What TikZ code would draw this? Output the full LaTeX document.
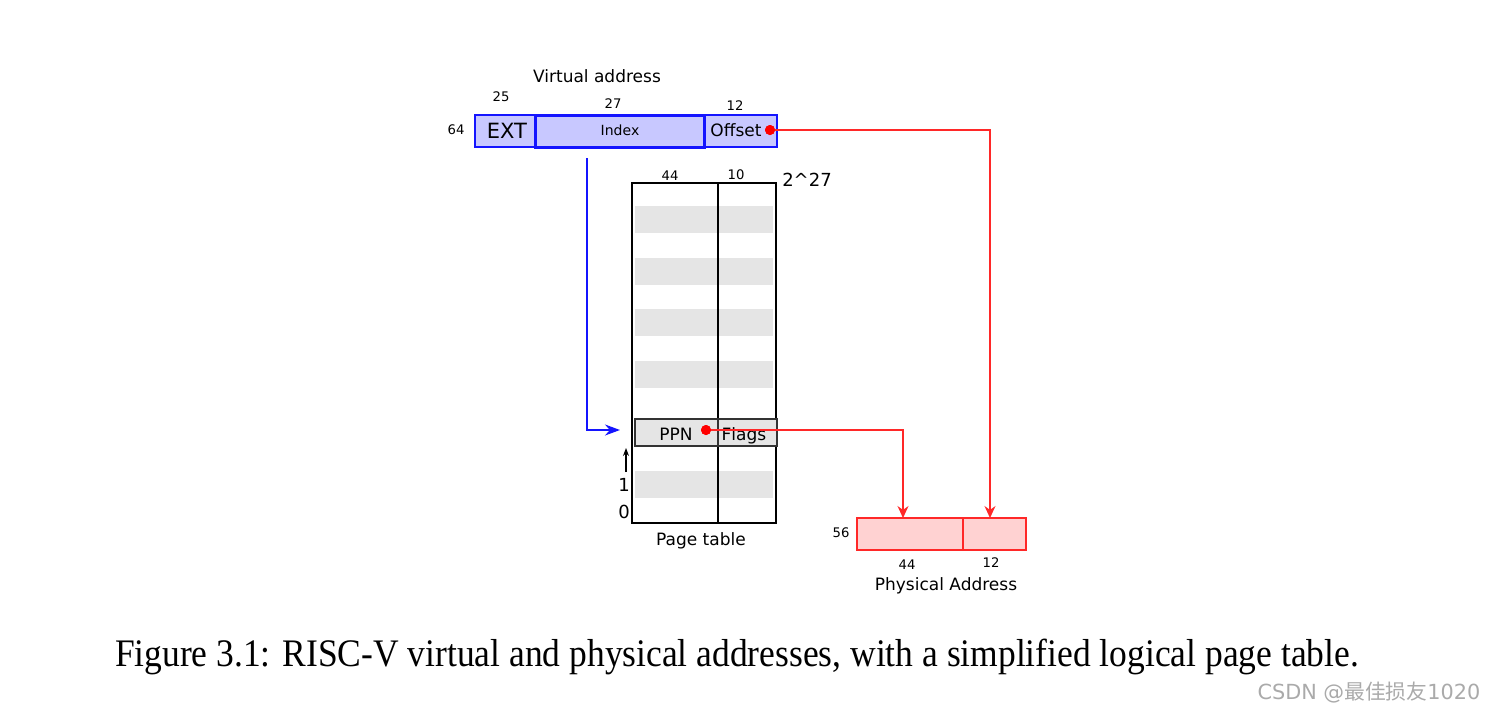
\documentclass[tikz,border=0pt]{standalone}
\usepackage{fontspec}
\setmainfont{DejaVu Sans}
\newfontfamily\capfont[FakeStretch=0.91]{Liberation Serif}
\newfontfamily\cjkfont{Noto Sans CJK SC}
\usetikzlibrary{arrows.meta}
\definecolor{vafill}{RGB}{200,200,255}
\definecolor{vablue}{RGB}{20,20,255}
\definecolor{pafill}{RGB}{255,210,210}
\definecolor{pared}{RGB}{255,40,40}
\definecolor{stripe}{RGB}{229,229,229}
\definecolor{wm}{RGB}{170,170,170}
\begin{document}
\begin{tikzpicture}[x=0.5pt,y=-0.5pt,
  lbl/.style={inner sep=0pt,font=\fontsize{8.5}{10}\selectfont},
  num/.style={inner sep=0pt,font=\fontsize{6.6}{7}\selectfont},
  vabox/.style={draw=vablue,fill=vafill,line width=0.7pt,inner sep=0pt},
  pabox/.style={draw=pared,fill=pafill,line width=0.7pt,inner sep=0pt},
  stripebox/.style={fill=stripe,draw=none},
  redarrow/.style={draw=pared,line width=0.6pt,-{Stealth[length=6pt,width=5.5pt]}},
  dotmark/.style={circle,fill=red,inner sep=0pt,minimum size=5pt}]
\useasboundingbox (0,0) rectangle (1496,714);
% virtual address
\path[vabox] (475,115) rectangle (535,147);
\path[vabox] (704,115) rectangle (777,147);
\path[vabox,line width=1.5pt] (535,115) rectangle (704,147);
\node[inner sep=0pt,font=\fontsize{10.5}{12}\selectfont] (ext) at (507,131) {EXT};
\node[inner sep=0pt,font=\fontsize{7}{8}\selectfont] (index) at (620,130) {Index};
\node[lbl] (offset) at (736,130) {Offset};
\node[dotmark] (odot) at (770,130) {};
\node[lbl] (vatitle) at (597,76) {Virtual address};
\node[num] (n25) at (501,97) {25};
\node[num] (n27) at (613,104) {27};
\node[num] (n12a) at (735,106) {12};
\node[num] (n64) at (456,130) {64};
% page table stripes
\foreach \y in {206,258,309,361,471} {\path[stripebox] (635,\y) rectangle (773,\y+27);}
\draw[line width=1pt] (632,183) rectangle (776,523);
\draw[line width=1pt] (718,183) -- (718,523);
\node[draw=black!80,fill=stripe,line width=0.8pt,minimum width=71pt,minimum height=13.5pt,inner sep=0pt,anchor=north west] (row) at (634,418) {};
\draw[line width=0.8pt,black!80] (718,418) -- (718,445);
\node[lbl,anchor=base] (ppn) at (676,440) {PPN};
\node[lbl,anchor=base] (flags) at (744,440) {Flags};
\node[dotmark] (pdot) at (706,430) {};
\node[num] (n44a) at (670,176) {44};
\node[num] (n10) at (736,175) {10};
\node[inner sep=0pt,font=\fontsize{9}{10}\selectfont] (p27) at (807,180) {2\char`^27};
\node[inner sep=0pt,font=\fontsize{9}{10}\selectfont] (one) at (624,485) {1};
\node[inner sep=0pt,font=\fontsize{9}{10}\selectfont] (zero) at (624,512) {0};
\coordinate (upbot) at (626,472);
\coordinate (uptop) at (626,448);
\draw[line width=0.6pt,-{Stealth[length=4pt,width=3pt]}] (upbot) -- (uptop);
\node[lbl] (pttitle) at (701,541) {Page table};
% physical address
\path[pabox] (857,518) rectangle (963,550);
\path[pabox] (963,518) rectangle (1026,550);
\node[num] (n56) at (841,533) {56};
\node[num] (n44b) at (907,565) {44};
\node[num] (n12b) at (991,563) {12};
\node[lbl] (patitle) at (946,586) {Physical Address};
\coordinate (pa44top) at (903,518);
\coordinate (pa12top) at (990,518);
% connectors
\coordinate (bstart) at (587,158);
\coordinate (bend) at (620,430);
\draw[vablue,line width=0.7pt,-{Stealth[length=7.5pt,width=5.5pt]}] (bstart) |- (bend);
\path[redarrow] (odot.center) -| (pa12top);
\path[redarrow] (pdot.center) -| (pa44top);
\node[dotmark] at (odot) {};
\node[dotmark] at (pdot) {};
% caption
\node[inner sep=0pt,font=\capfont\fontsize{19.5}{22}\selectfont] (caption) at (737,657) {Figure 3.1: RISC-V virtual and physical addresses, with a simplified logical page table.};
\node[inner sep=0pt,text=wm,font=\fontsize{10.4}{12}\selectfont] (wmark) at (1369,693) {CSDN @{\cjkfont 最佳损友}1020};
\end{tikzpicture}
\end{document}
